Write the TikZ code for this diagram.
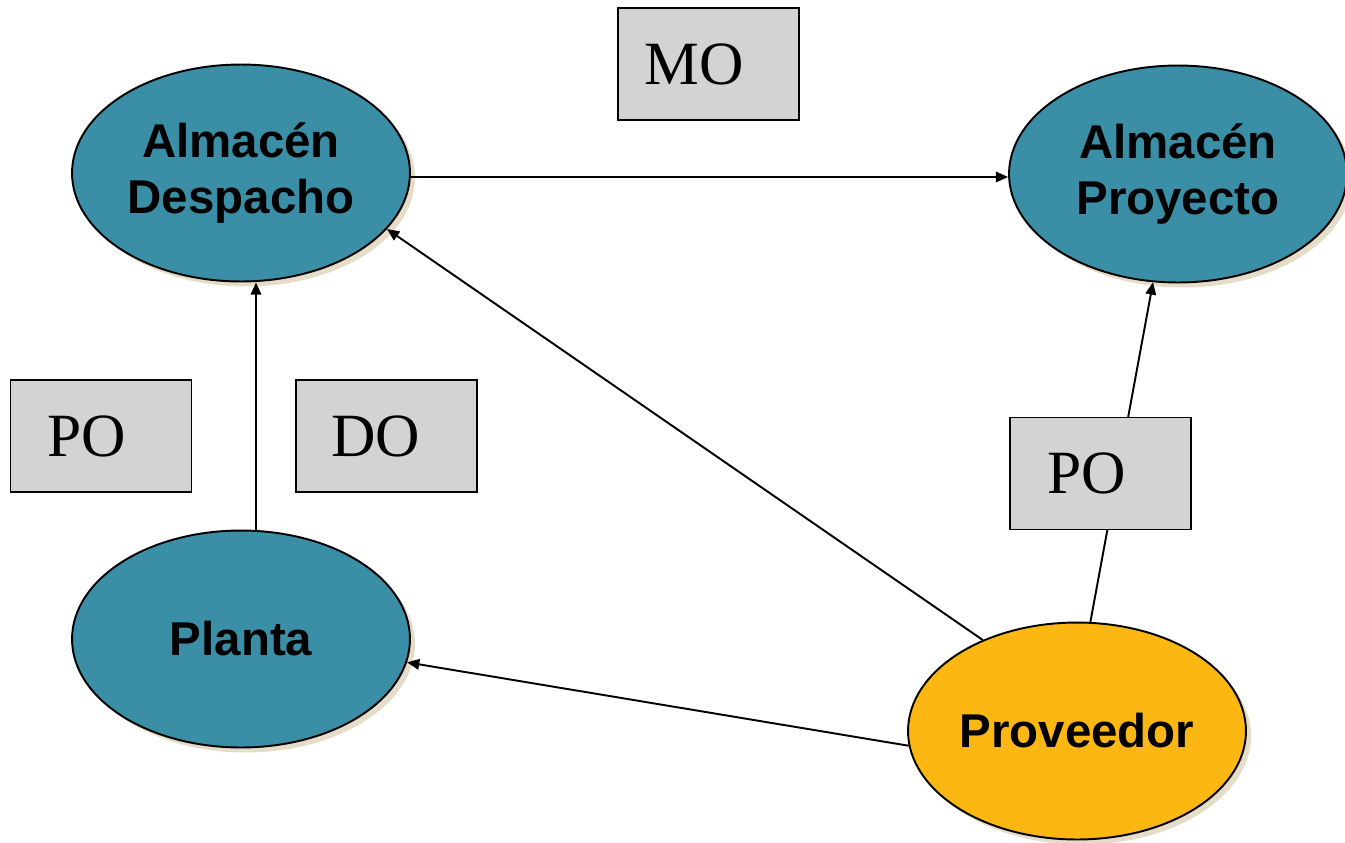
\documentclass[tikz,border=0pt]{standalone}
\usepackage{fontspec}
\setmainfont{Liberation Serif}
\newfontfamily\sansb{Liberation Sans}
\usetikzlibrary{shapes.geometric,shadows,arrows.meta}
\definecolor{tealc}{HTML}{3A8FA7}
\definecolor{yellowc}{HTML}{FDB713}
\definecolor{grayc}{HTML}{D3D3D3}
\definecolor{shadowc}{HTML}{E6DDC9}
\tikzset{
  oval/.style={ellipse, draw=black, line width=1.1pt, fill=tealc, inner sep=0pt,
    minimum width=6.76cm, minimum height=4.34cm, align=center,
    font=\sansb\fontsize{27}{32}\selectfont\bfseries,
    drop shadow={shadow xshift=0.1cm, shadow yshift=-0.1cm, fill=shadowc, opacity=1}},
  labelbox/.style={rectangle, draw=black, line width=1.1pt, fill=grayc, inner sep=0pt,
    minimum width=3.62cm, minimum height=2.24cm,
    font=\fontsize{35}{40}\selectfont},
  conn/.style={line width=1.1pt, draw=black},
  arr/.style={conn, -{Triangle[length=7pt,width=6pt]}}
}
\begin{document}
\begin{tikzpicture}[x=0.02cm,y=-0.02cm]
\useasboundingbox (0,0) rectangle (1345,842);
% ellipses
\node[oval] (desp) at (241,173) {Almacén\\Despacho};
\node[oval] (proy) at (1178,174) {Almacén\\Proyecto};
\node[oval] (planta) at (241,639) {Planta};
\node[oval, fill=yellowc] (prov) at (1077,731) {Proveedor};
% connectors
\draw[arr] ([yshift=-0.08cm]desp.east) -- ([yshift=-0.06cm]proy.west);
\draw[arr] ([xshift=0.3cm]planta.north) -- ([xshift=0.3cm]desp.south);
\draw[arr] (prov.136) -- (desp.-21);
\draw[arr] (prov.185) -- (planta.-8);
\draw[arr] (prov.83) -- (proy.257);
% label boxes
\node[labelbox] (mo) at (708.5,64) {MO\hspace*{16pt}};
\node[labelbox] (po1) at (101,436) {PO\hspace*{16pt}};
\node[labelbox] (do) at (386.5,436) {DO\hspace*{12pt}};
\node[labelbox] (po2) at (1100.5,473.5) {PO\hspace*{16pt}};
\end{tikzpicture}
\end{document}
